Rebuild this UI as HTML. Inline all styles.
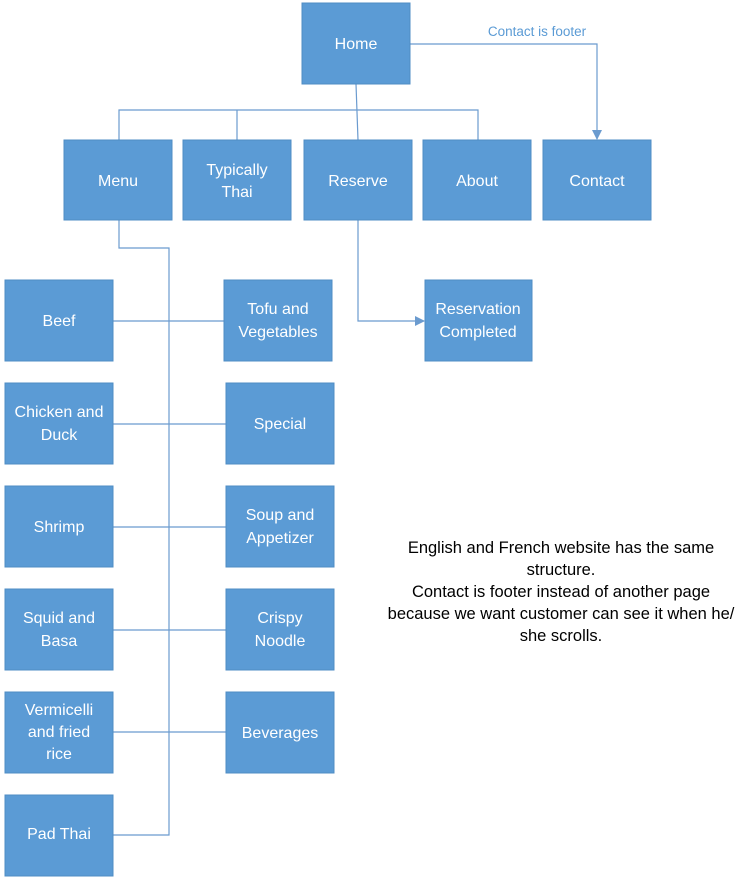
<!DOCTYPE html>
<html><head><meta charset="utf-8"><style>
body{margin:0;background:#fff;width:750px;height:884px;overflow:hidden;font-family:"Liberation Sans",sans-serif;}
svg{position:absolute;left:0;top:0}
.b{fill:#5b9bd5;stroke:#4f8cc4;stroke-width:1}
.t{fill:#fff;font-size:16px;text-anchor:middle;font-family:"Liberation Sans",sans-serif}
.l{stroke:#6b9bcf;stroke-width:1.2;fill:none}
</style></head><body>
<svg width="750" height="884" viewBox="0 0 750 884">
<defs><marker id="a" markerWidth="10" markerHeight="10" refX="9" refY="5" orient="auto" markerUnits="userSpaceOnUse"><path d="M0,0 L10,5 L0,10 z" fill="#6b9bcf"/></marker></defs>
<path class="l" d="M356,84 L358,140"/>
<path class="l" d="M119,140 L119,110 L478,110 L478,140"/>
<path class="l" d="M237,110 L237,140"/>
<path class="l" d="M410,44 L597,44 L597,139" marker-end="url(#a)"/>
<path class="l" d="M119,220 L119,248 L169,248 L169,835 L113,835"/>
<path class="l" d="M113,321 L224,321"/>
<path class="l" d="M113,424 L226,424"/>
<path class="l" d="M113,527 L226,527"/>
<path class="l" d="M113,630 L226,630"/>
<path class="l" d="M113,732 L226,732"/>
<path class="l" d="M358,220 L358,321 L424,321" marker-end="url(#a)"/>
<text x="537" y="36" font-size="13.5" fill="#5b9bd5" text-anchor="middle" font-family="Liberation Sans,sans-serif">Contact is footer</text>
<rect class="b" x="302" y="3" width="108" height="81"/><text class="t" x="356" y="49">Home</text>
<rect class="b" x="64" y="140" width="108" height="80"/><text class="t" x="118" y="186">Menu</text>
<rect class="b" x="183" y="140" width="108" height="80"/><text class="t" x="237" y="175">Typically</text><text class="t" x="237" y="197">Thai</text>
<rect class="b" x="304" y="140" width="108" height="80"/><text class="t" x="358" y="186">Reserve</text>
<rect class="b" x="423" y="140" width="108" height="80"/><text class="t" x="477" y="186">About</text>
<rect class="b" x="543" y="140" width="108" height="80"/><text class="t" x="597" y="186">Contact</text>
<rect class="b" x="425" y="280" width="107" height="81"/><text class="t" x="478" y="314">Reservation</text><text class="t" x="478" y="337">Completed</text>
<rect class="b" x="5" y="280" width="108" height="81"/><text class="t" x="59" y="326">Beef</text>
<rect class="b" x="5" y="383" width="108" height="81"/><text class="t" x="59" y="417">Chicken and</text><text class="t" x="59" y="440">Duck</text>
<rect class="b" x="5" y="486" width="108" height="81"/><text class="t" x="59" y="532">Shrimp</text>
<rect class="b" x="5" y="589" width="108" height="81"/><text class="t" x="59" y="623">Squid and</text><text class="t" x="59" y="646">Basa</text>
<rect class="b" x="5" y="692" width="108" height="81"/><text class="t" x="59" y="715">Vermicelli</text><text class="t" x="59" y="737">and fried</text><text class="t" x="59" y="759">rice</text>
<rect class="b" x="5" y="795" width="108" height="81"/><text class="t" x="59" y="839">Pad Thai</text>
<rect class="b" x="224" y="280" width="108" height="81"/><text class="t" x="278" y="314">Tofu and</text><text class="t" x="278" y="337">Vegetables</text>
<rect class="b" x="226" y="383" width="108" height="81"/><text class="t" x="280" y="429">Special</text>
<rect class="b" x="226" y="486" width="108" height="81"/><text class="t" x="280" y="520">Soup and</text><text class="t" x="280" y="543">Appetizer</text>
<rect class="b" x="226" y="589" width="108" height="81"/><text class="t" x="280" y="623">Crispy</text><text class="t" x="280" y="646">Noodle</text>
<rect class="b" x="226" y="692" width="108" height="81"/><text class="t" x="280" y="738">Beverages</text>
<g font-size="16.5" fill="#000" text-anchor="middle" font-family="Liberation Sans,sans-serif">
<text x="561" y="553">English and French website has the same</text>
<text x="561" y="575">structure.</text>
<text x="561" y="597">Contact is footer instead of another page</text>
<text x="561" y="619">because we want customer can see it when he/</text>
<text x="561" y="641">she scrolls.</text>
</g>
</svg>
</body></html>
